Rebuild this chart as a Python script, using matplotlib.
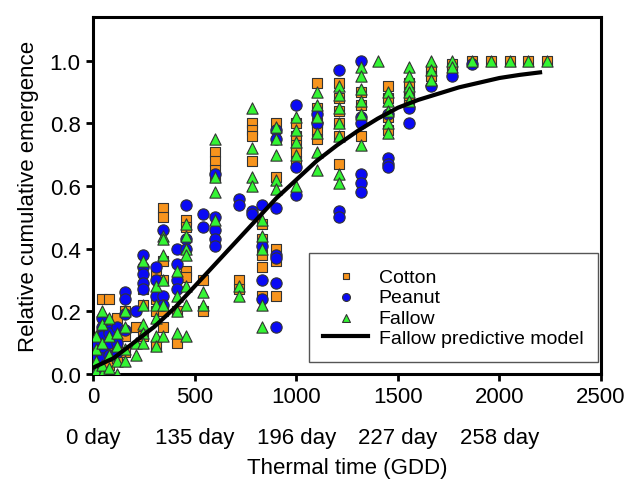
import matplotlib
matplotlib.use("Agg")
import matplotlib.pyplot as plt

plt.rcParams['font.family'] = ['Liberation Sans', 'DejaVu Sans']

# thermal time (GDD) of each sampling date
gdd_cols = [15, 45, 80, 115, 155, 210, 245, 310, 345, 415, 455, 540, 600, 720, 780,
            830, 900, 1000, 1100, 1210, 1320, 1400, 1450, 1555, 1665, 1765, 1865,
            1960, 2050, 2140, 2235]

# relative cumulative emergence, one list per sampling date
cotton = [
    [0.0, 0.02, 0.05, 0.1], [0.24, 0.12, 0.05, 0.02], [0.24, 0.15, 0.08, 0.03],
    [0.18, 0.1, 0.05], [0.2, 0.12, 0.07], [0.15], [0.27, 0.22, 0.12],
    [0.32, 0.24, 0.2, 0.09], [0.53, 0.5, 0.36, 0.3, 0.2, 0.15], [0.2, 0.1],
    [0.49, 0.47, 0.33, 0.31], [0.30, 0.20], [0.71, 0.68, 0.65, 0.63], [0.30, 0.27],
    [0.80, 0.78, 0.76, 0.68], [0.48, 0.43, 0.38, 0.34, 0.25],
    [0.80, 0.63, 0.40, 0.36, 0.25], [0.80, 0.76, 0.73, 0.71, 0.68],
    [0.93, 0.85, 0.80, 0.78, 0.75], [0.93, 0.88, 0.84, 0.80, 0.76, 0.67],
    [0.90, 0.86, 0.76], [], [0.92, 0.88, 0.82, 0.78], [0.93, 0.90, 0.88, 0.86],
    [0.97, 0.95], [0.99, 0.97], [1.0], [1.0], [1.0], [1.0], [1.0],
]
peanut = [
    [0.0, 0.03, 0.06, 0.1], [0.18, 0.15, 0.12, 0.08, 0.05], [0.14, 0.13, 0.1, 0.06],
    [0.15, 0.1, 0.07], [0.26, 0.24, 0.19, 0.14], [0.2], [0.38, 0.34, 0.32, 0.29, 0.27],
    [0.34, 0.3, 0.25], [0.46, 0.25, 0.22], [0.40, 0.35, 0.30, 0.27], [0.54, 0.43, 0.40],
    [0.51, 0.47], [0.64, 0.50, 0.46, 0.43, 0.41], [0.56, 0.54], [0.52, 0.51],
    [0.54, 0.41, 0.30, 0.24], [0.78, 0.75, 0.53, 0.38, 0.37, 0.29, 0.15],
    [0.86, 0.66, 0.57], [0.83, 0.80], [0.97, 0.52, 0.50],
    [1.0, 0.82, 0.80, 0.64, 0.61, 0.58], [], [0.83, 0.69, 0.67, 0.66], [0.85, 0.80],
    [0.92], [0.95], [0.99], [], [], [], [],
]
fallow = [
    [0.0, 0.01, 0.04, 0.08, 0.12], [0.0, 0.03, 0.1, 0.16, 0.2], [0.02, 0.06, 0.12, 0.18],
    [0.0, 0.04, 0.09, 0.13], [0.2, 0.15, 0.08, 0.04], [0.10, 0.06],
    [0.36, 0.22, 0.16, 0.13, 0.1], [0.28, 0.22, 0.18, 0.12, 0.09],
    [0.44, 0.43, 0.38, 0.30, 0.22, 0.12], [0.33, 0.25, 0.20, 0.13],
    [0.48, 0.44, 0.40, 0.38, 0.28, 0.22, 0.12], [0.26, 0.22], [0.75, 0.63, 0.58, 0.49],
    [0.28, 0.25], [0.85, 0.72, 0.63, 0.60], [0.49, 0.44, 0.40, 0.22, 0.15],
    [0.79, 0.75, 0.70, 0.62, 0.59], [0.82, 0.78, 0.74, 0.70, 0.60],
    [0.90, 0.86, 0.82, 0.77, 0.71, 0.65], [0.92, 0.89, 0.85, 0.80, 0.76, 0.64, 0.61],
    [0.98, 0.95, 0.91, 0.87, 0.83, 0.73], [1.0], [0.90, 0.87, 0.84, 0.80, 0.77],
    [0.98, 0.95, 0.92, 0.90, 0.87], [1.0, 0.97, 0.94], [1.0, 0.98],
    [1.0], [1.0], [1.0], [1.0], [1.0],
]

# fallow predictive model
model_gdd = [0, 100, 200, 300, 400, 500, 600, 700, 800, 900, 1000, 1100, 1200, 1300,
             1400, 1500, 1600, 1700, 1800, 1900, 2000, 2100, 2200]
model_rce = [0.02, 0.05, 0.10, 0.15, 0.21, 0.28, 0.35, 0.42, 0.49, 0.56, 0.62, 0.68,
             0.73, 0.775, 0.815, 0.85, 0.875, 0.895, 0.915, 0.93, 0.945, 0.955, 0.963]

xticks = [0, 500, 1000, 1500, 2000, 2500]
day_labels = ['0 day', '135 day', '196 day', '227 day', '258 day', '']


def flatten(cols, vals):
    xs, ys = [], []
    for g, v in zip(cols, vals):
        for y in v:
            xs.append(g)
            ys.append(y)
    return xs, ys


fig = plt.figure(figsize=(6.38, 4.85), dpi=100)
ax = fig.add_axes([0.146, 0.227, 0.796, 0.736])

edge = '#333333'
x, y = flatten(gdd_cols, cotton)
ax.scatter(x, y, marker='s', s=50, color='#f7941d', edgecolors=edge, linewidths=0.8,
           label='Cotton', zorder=3)
x, y = flatten(gdd_cols, peanut)
ax.scatter(x, y, marker='o', s=66, color='#0a0af5', edgecolors=edge, linewidths=0.8,
           label='Peanut', zorder=4)
x, y = flatten(gdd_cols, fallow)
ax.scatter(x, y, marker='^', s=66, color='#33f533', edgecolors=edge, linewidths=0.8,
           label='Fallow', zorder=5)
ax.plot(model_gdd, model_rce, color='black', lw=3, label='Fallow predictive model',
        zorder=6)

ax.set_xlim(0, 2500)
ax.set_ylim(0, 1.14)
ax.set_xticks(xticks)
ax.set_xticklabels([f'{t}\n{d}' for t, d in zip(xticks, day_labels)], linespacing=2.2)
ax.set_yticks([0, 0.2, 0.4, 0.6, 0.8, 1.0])
ax.set_yticklabels(['0.0', '0.2', '0.4', '0.6', '0.8', '1.0'])
ax.tick_params(direction='out', length=5, width=2, labelsize=16, pad=4)

for s in ax.spines.values():
    s.set_linewidth(2.2)

ax.set_xlabel('Thermal time (GDD)', fontsize=16, labelpad=7)
ax.set_ylabel('Relative cumulative emergence', fontsize=16, labelpad=8)

leg = ax.legend(loc='lower right', bbox_to_anchor=(0.994, 0.034), fontsize=14,
                frameon=True, fancybox=False, edgecolor='#555555', framealpha=1,
                markerscale=0.7, handlelength=2.3, borderpad=0.75, labelspacing=0.15,
                handletextpad=0.55, borderaxespad=0)
leg.get_frame().set_linewidth(1.0)

fig.savefig('out.png', dpi=100)
